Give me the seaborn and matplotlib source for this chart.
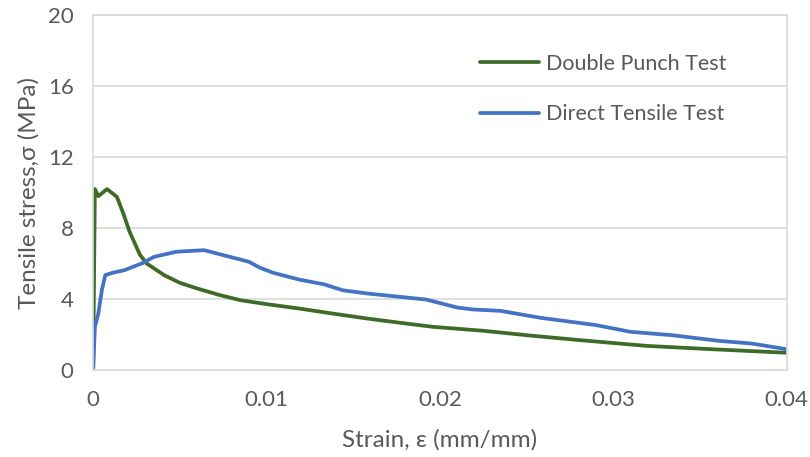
import pandas as pd
import numpy as np
import matplotlib
matplotlib.use("Agg")
import matplotlib.pyplot as plt
import seaborn as sns

# Double Punch Test
dpt_strain = [0, 0.0001, 0.0003, 0.0008, 0.00137, 0.00175, 0.0021, 0.0027, 0.0031, 0.0041,
              0.0050, 0.0060, 0.0073, 0.0085, 0.0100, 0.0119, 0.0138, 0.0158, 0.0177,
              0.0196, 0.0225, 0.0252, 0.0281, 0.0319, 0.0357, 0.0400]
dpt_stress = [0, 10.2, 9.8, 10.2, 9.76, 8.8, 7.8, 6.5, 6.0, 5.35,
              4.92, 4.6, 4.23, 3.94, 3.72, 3.47, 3.19, 2.91, 2.67,
              2.44, 2.22, 1.95, 1.69, 1.37, 1.18, 0.98]

# Direct Tensile Test
dtt_strain = [0, 0.0001, 0.0003, 0.0005, 0.0007, 0.0011, 0.0018, 0.0024, 0.0029, 0.0035,
              0.0048, 0.0064, 0.0075, 0.0085, 0.0090, 0.0096, 0.0104, 0.0119, 0.0133,
              0.0144, 0.0158, 0.0177, 0.0192, 0.0210, 0.0219, 0.0235, 0.0258, 0.0290,
              0.0310, 0.0334, 0.0361, 0.0380, 0.0400]
dtt_stress = [0, 2.44, 3.19, 4.5, 5.35, 5.48, 5.63, 5.86, 6.05, 6.38,
              6.67, 6.76, 6.48, 6.23, 6.1, 5.78, 5.48, 5.1, 4.84,
              4.5, 4.32, 4.13, 3.98, 3.53, 3.42, 3.34, 2.95, 2.54,
              2.16, 1.97, 1.65, 1.5, 1.18]

series_names = ["Double Punch Test", "Direct Tensile Test"]
colors = ["#3f6b28", "#4472c4"]

df = pd.concat([
    pd.DataFrame({"strain": dpt_strain, "stress": dpt_stress, "test": series_names[0]}),
    pd.DataFrame({"strain": dtt_strain, "stress": dtt_stress, "test": series_names[1]}),
])

sns.set_style("white")
plt.rcParams['font.family'] = ['Lato', 'DejaVu Sans']
text_col = "#595959"
grid_col = "#d9d9d9"

fig = plt.figure(figsize=(8.1, 4.57), dpi=100)
ax = fig.add_axes([0.115, 0.19, 0.856, 0.777])

sns.lineplot(data=df, x="strain", y="stress", hue="test", palette=colors,
             sort=False, estimator=None, linewidth=2.7, ax=ax)

ax.set_xlim(0, 0.04)
ax.set_ylim(0, 20)
ax.set_xticks([0, 0.01, 0.02, 0.03, 0.04])
ax.set_xticklabels(["0", "0.01", "0.02", "0.03", "0.04"])
ax.set_yticks([0, 4, 8, 12, 16, 20])
ax.yaxis.grid(True, color=grid_col, linewidth=1.2)
ax.set_axisbelow(True)
for s in ax.spines.values():
    s.set_color(grid_col)
    s.set_linewidth(1.2)
ax.tick_params(axis="x", length=0, labelsize=16, colors=text_col, pad=14)
ax.tick_params(axis="y", length=0, labelsize=16, colors=text_col, pad=14)

ax.set_xlabel("Strain, ε (mm/mm)", fontsize=17.5, color=text_col, labelpad=14)
ax.set_ylabel("Tensile stress,σ (MPa)", fontsize=17.5, color=text_col, labelpad=6)

ax.legend(loc="upper left", bbox_to_anchor=(0.53, 0.945), frameon=False,
          labelspacing=1.4, handlelength=2.75, handletextpad=0.3,
          fontsize=15.5, labelcolor=text_col)

fig.savefig("out.png", dpi=100)
